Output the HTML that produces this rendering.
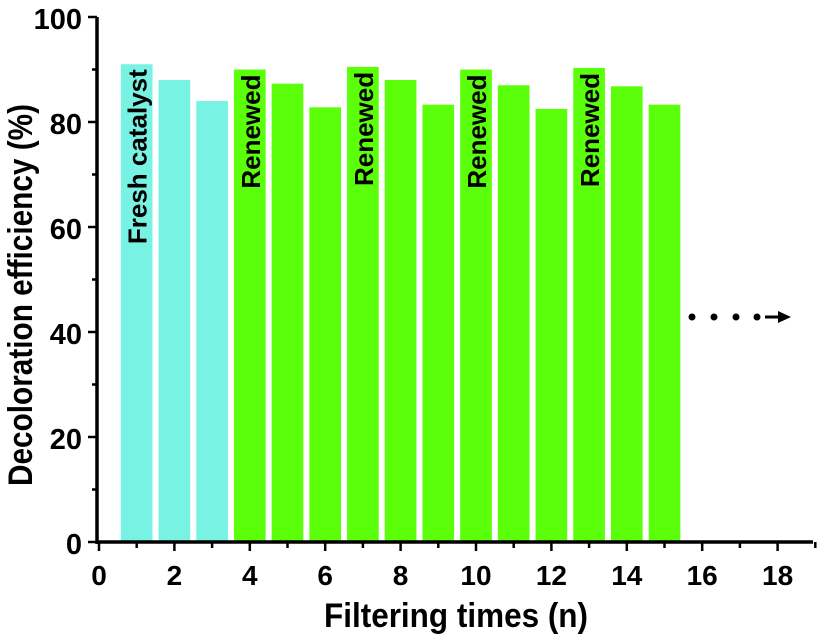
<!DOCTYPE html>
<html><head><meta charset="utf-8"><style>body{margin:0;background:#fff}svg{font-family:"Liberation Sans",sans-serif;font-weight:bold}</style></head>
<body>
<svg id="chart" width="819" height="636" viewBox="0 0 819 636" xmlns="http://www.w3.org/2000/svg">
<g id="bars"></g>
<g id="axes"></g>
<g>
<circle cx="692" cy="317" r="3.5" fill="#000"/><circle cx="714" cy="317" r="3.5" fill="#000"/><circle cx="736" cy="317" r="3.5" fill="#000"/><circle cx="757" cy="317" r="3.5" fill="#000"/>
<line x1="765" y1="317" x2="780" y2="317" stroke="#000" stroke-width="3"/><polygon points="778,311 791,317 778,323" fill="#000"/>
</g>
<text x="324" y="627" font-size="34" textLength="264" lengthAdjust="spacingAndGlyphs">Filtering times (n)</text>
<text transform="translate(32,486) rotate(-90)" font-size="34" textLength="382" lengthAdjust="spacingAndGlyphs">Decoloration efficiency (%)</text>
</svg>
<script>
const cycles=[1,2,3,4,5,6,7,8,9,10,11,12,13,14,15];
const efficiency=[91,88,84,90,87.3,82.8,90.5,88,83.3,90,87,82.5,90.3,86.8,83.3];
const barLabels=["Fresh catalyst","","","Renewed","","","Renewed","","","Renewed","","","Renewed","",""];
const xTicks=[0,2,4,6,8,10,12,14,16,18];
const yTicks=[0,20,40,60,80,100];
const NS="http://www.w3.org/2000/svg";
const X=v=>99+v*37.7, Y=v=>542-v*5.25;
function mk(t,a,p){const e=document.createElementNS(NS,t);for(const k in a)e.setAttribute(k,a[k]);p.appendChild(e);return e;}
const bars=document.getElementById('bars'), axes=document.getElementById('axes');
cycles.forEach((c,i)=>{
  const r=mk('rect',{x:X(c-0.42),y:Y(efficiency[i]),width:37.7*0.84,height:Y(0)-Y(efficiency[i]),fill:c<=3?'#78f2e2':'#5cff0a'},bars);
  
  
  if(barLabels[i]){
    const t=mk('text',{transform:`translate(${X(c)+10},${Y(efficiency[i])+5}) rotate(-90)`,'text-anchor':'end','font-size':'26'},bars);
    t.textContent=barLabels[i];
    
    
  }
});
const xa=mk('line',{x1:97,y1:542,x2:813,y2:542,stroke:'#000','stroke-width':3.5},axes);


const ya=mk('line',{x1:97,y1:544,x2:97,y2:17,stroke:'#000','stroke-width':3.5},axes);


for(let v=0;v<=19;v++){mk('line',{x1:X(v),y1:542,x2:X(v),y2:v%2?548:551,stroke:'#000','stroke-width':2.5},axes);}
xTicks.forEach(v=>{const t=mk('text',{x:X(v),y:585,'text-anchor':'middle','font-size':28},axes);t.textContent=v;

});
for(let v=0;v<=100;v+=10){mk('line',{x1:97,y1:Y(v),x2:v%20?92:88,y2:Y(v),stroke:'#000','stroke-width':2.5},axes);}
yTicks.forEach(v=>{const t=mk('text',{x:82,y:Y(v)+12,'text-anchor':'end','font-size':29},axes);t.textContent=v;

});
</script>
</body></html>
